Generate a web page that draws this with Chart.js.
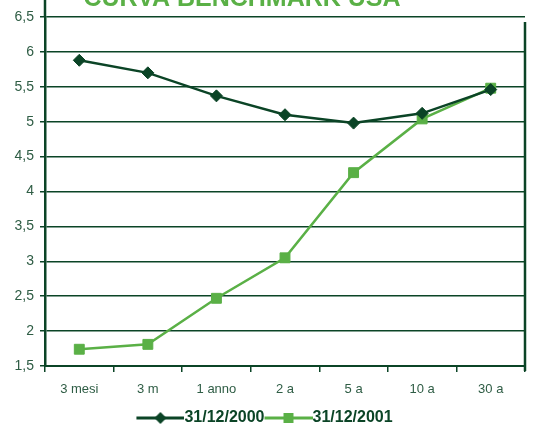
<!DOCTYPE html>
<html>
<head>
<meta charset="utf-8">
<style>
  html, body { margin: 0; padding: 0; background: #fff; }
  #wrap { width: 533px; height: 425px; }
</style>
<script src="https://cdn.jsdelivr.net/npm/chart.js@4/dist/chart.umd.min.js"></script>
</head>
<body>
<div id="wrap"><canvas id="curva" width="533" height="425"></canvas></div>
<script>
const scadenze = ['3 mesi', '3 m', '1 anno', '2 a', '5 a', '10 a', '30 a'];
const curva2000 = [5.88, 5.70, 5.37, 5.10, 4.98, 5.12, 5.46];
const curva2001 = [1.74, 1.81, 2.47, 3.05, 4.27, 5.04, 5.48];
const titolo = 'CURVA BENCHMARK USA';

const DARK = '#0b4426';
const LIGHT = '#5ab046';
const TEXT = '#2f5d45';

// legend icon: line running into the label text, marker in the middle
function legendIcon(color, style) {
    const c = document.createElement('canvas');
    c.width = 54; c.height = 14;
    const g = c.getContext('2d');
    g.strokeStyle = color;
    g.lineWidth = 3;
    g.beginPath();
    g.moveTo(6, 7); g.lineTo(54, 7);
    g.stroke();
    g.fillStyle = color;
    g.beginPath();
    if (style === 'rectRot') {
        g.moveTo(30, 1); g.lineTo(36, 7); g.lineTo(30, 13); g.lineTo(24, 7);
    } else {
        g.rect(25, 2, 10, 10);
    }
    g.closePath();
    g.fill();
    return c;
}

const decorations = {
    id: 'decorations',
    afterDraw(chart) {
        const { ctx, chartArea } = chart;
        ctx.save();
        // title, partly above the top edge
        ctx.fillStyle = LIGHT;
        ctx.font = 'bold 25px "Liberation Sans", Arial, sans-serif';
        ctx.textAlign = 'center';
        ctx.textBaseline = 'alphabetic';
        ctx.fillText(titolo, 242, 5.5);
        // y axis runs up to the top, right frame line
        ctx.strokeStyle = DARK;
        ctx.lineWidth = 2.5;
        ctx.beginPath();
        ctx.moveTo(chartArea.left, 0);
        ctx.lineTo(chartArea.left, chartArea.top);
        ctx.moveTo(chartArea.right, 22);
        ctx.lineTo(chartArea.right, chartArea.bottom + 5);
        ctx.stroke();
        ctx.restore();
    }
};

new Chart(document.getElementById('curva'), {
    type: 'line',
    data: {
        labels: scadenze,
        datasets: [
            {
                label: '31/12/2000',
                data: curva2000,
                borderColor: DARK,
                backgroundColor: DARK,
                borderWidth: 2.5,
                pointStyle: 'rectRot',
                pointRadius: 6,
                pointBorderWidth: 1,
                tension: 0
            },
            {
                label: '31/12/2001',
                data: curva2001,
                borderColor: LIGHT,
                backgroundColor: LIGHT,
                borderWidth: 2.5,
                pointStyle: 'rect',
                pointRadius: 7,
                pointBorderWidth: 1,
                tension: 0
            }
        ]
    },
    options: {
        responsive: false,
        animation: false,
        layout: { padding: { top: 17, right: 2, left: 0, bottom: -11 } },
        scales: {
            x: {
                offset: true,
                afterFit: s => { s.height = 42; },
                grid: {
                    offset: true,
                    drawOnChartArea: false,
                    color: DARK,
                    lineWidth: 1.5,
                    tickLength: 6
                },
                border: { color: DARK, width: 2 },
                ticks: {
                    color: TEXT,
                    padding: 10,
                    font: { family: '"Liberation Sans", Arial', size: 13 }
                }
            },
            y: {
                min: 1.5,
                max: 6.5,
                afterFit: s => { s.width = 45; },
                grid: {
                    color: DARK,
                    lineWidth: 1.5,
                    tickLength: 5
                },
                border: { color: DARK, width: 2.5 },
                ticks: {
                    stepSize: 0.5,
                    color: TEXT,
                    padding: 6,
                    font: { family: '"Liberation Sans", Arial', size: 14 },
                    callback: v => String(v).replace('.', ',')
                }
            }
        },
        plugins: {
            title: { display: false },
            tooltip: { enabled: false },
            legend: {
                position: 'bottom',
                labels: {
                    usePointStyle: true,
                    pointStyleWidth: 38,
                    padding: 2,
                    color: DARK,
                    font: { family: '"Liberation Sans", Arial', size: 16, weight: 'bold' },
                    generateLabels(chart) {
                        const items = Chart.defaults.plugins.legend.labels.generateLabels(chart);
                        items.forEach((it, i) => {
                            const ds = chart.data.datasets[i];
                            it.pointStyle = legendIcon(ds.borderColor, ds.pointStyle);
                        });
                        return items;
                    }
                }
            }
        }
    },
    plugins: [decorations]
});
</script>
</body>
</html>
